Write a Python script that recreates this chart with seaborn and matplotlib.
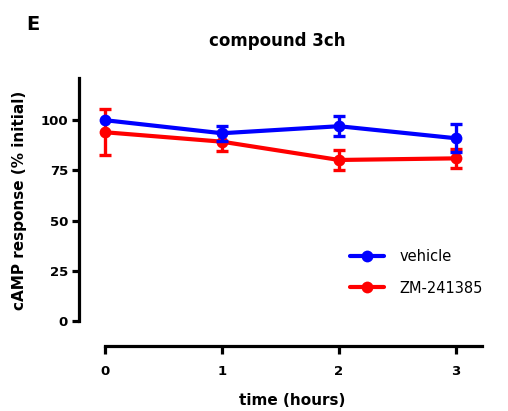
import matplotlib
matplotlib.use("Agg")
import matplotlib.pyplot as plt
import seaborn as sns
import pandas as pd

# ---- data ----
time_hours = [0, 1, 2, 3]
vehicle_mean = [100.0, 93.5, 97.0, 91.0]
vehicle_err = [0.0, 3.7, 5.0, 7.0]
zm_mean = [94.0, 89.3, 80.2, 81.0]
zm_err = [11.5, 4.6, 4.9, 4.8]
series_names = ["vehicle", "ZM-241385"]
series_colors = ["#0000FF", "#FF0000"]
y_ticks = [0, 25, 50, 75, 100]
x_ticks = [0, 1, 2, 3]

sns.set_style("ticks")
plt.rcParams["font.family"] = ["DejaVu Sans"]
plt.rcParams["text.color"] = "black"
plt.rcParams["axes.labelcolor"] = "black"
plt.rcParams["axes.edgecolor"] = "black"
plt.rcParams["xtick.color"] = "black"
plt.rcParams["ytick.color"] = "black"

fig = plt.figure(figsize=(5.08, 4.11), dpi=100)
ax = fig.add_axes([79 / 508, 1 - 346 / 411, 402.7 / 508, 268 / 411])

df = pd.DataFrame({
    "time": time_hours * 2,
    "value": vehicle_mean + zm_mean,
    "err": vehicle_err + zm_err,
    "group": [series_names[0]] * 4 + [series_names[1]] * 4,
})

# draw red first, then blue on top
order = [1, 0]
for i in order:
    name = series_names[i]
    sub = df[(df["group"] == name)]
    with_err = sub[sub["err"] > 0]
    ax.errorbar(with_err["time"], with_err["value"], yerr=with_err["err"],
                fmt="none", ecolor=series_colors[i], elinewidth=2.4,
                capsize=4.5, capthick=2.4, zorder=2 + (1 - i))
    sns.lineplot(data=sub, x="time", y="value", ax=ax, color=series_colors[i],
                 linewidth=3.0, marker="o", markersize=8.5,
                 markeredgewidth=0, label=name, zorder=3 + (1 - i))

ax.set_xlim(-0.222, 3.22)
ax.set_ylim(-12.4, 121)
ax.set_xticks(x_ticks)
ax.set_yticks(y_ticks)
ax.set_xticklabels([str(t) for t in x_ticks], fontweight="bold", fontsize=9.5)
ax.set_yticklabels([str(t) for t in y_ticks], fontweight="bold", fontsize=9.5)

for s in ["top", "right"]:
    ax.spines[s].set_visible(False)
ax.spines["left"].set_linewidth(2.3)
ax.spines["bottom"].set_linewidth(2.3)
ax.spines["left"].set_bounds(0, 121)
ax.spines["bottom"].set_bounds(0, 3.22)
ax.tick_params(axis="y", length=5, width=2.3, pad=3, colors="black")
ax.tick_params(axis="x", length=6, width=2.3, pad=8, colors="black")

ax.set_xlabel("time (hours)", fontweight="bold", fontsize=11)
ax.set_ylabel("cAMP response (% initial)", fontweight="bold", fontsize=11)
ax.xaxis.set_label_coords((292 - 79) / 402.7, -(400 - 346) / 268)
ax.xaxis.label.set_va("center")
ax.yaxis.set_label_coords((20 - 79) / 402.7, (346 - 200) / 268)
ax.yaxis.label.set_va("center")

fig.text(277 / 508, 1 - 41 / 411, "compound 3ch", fontweight="bold",
         fontsize=12, ha="center", va="center")
fig.text(26 / 508, 1 - 25 / 411, "E", fontweight="bold", fontsize=14,
         ha="left", va="center")

handles, labels = ax.get_legend_handles_labels()
hl = dict(zip(labels, handles))
leg = ax.legend([hl[n] for n in series_names], series_names,
                loc="center left",
                bbox_to_anchor=(350 / 508, 1 - 272.5 / 411),
                bbox_transform=fig.transFigure, frameon=False,
                fontsize=10.5, handlelength=2.3, handletextpad=1.1,
                labelspacing=1.1, borderpad=0, borderaxespad=0)

fig.savefig("out.png", dpi=100)
